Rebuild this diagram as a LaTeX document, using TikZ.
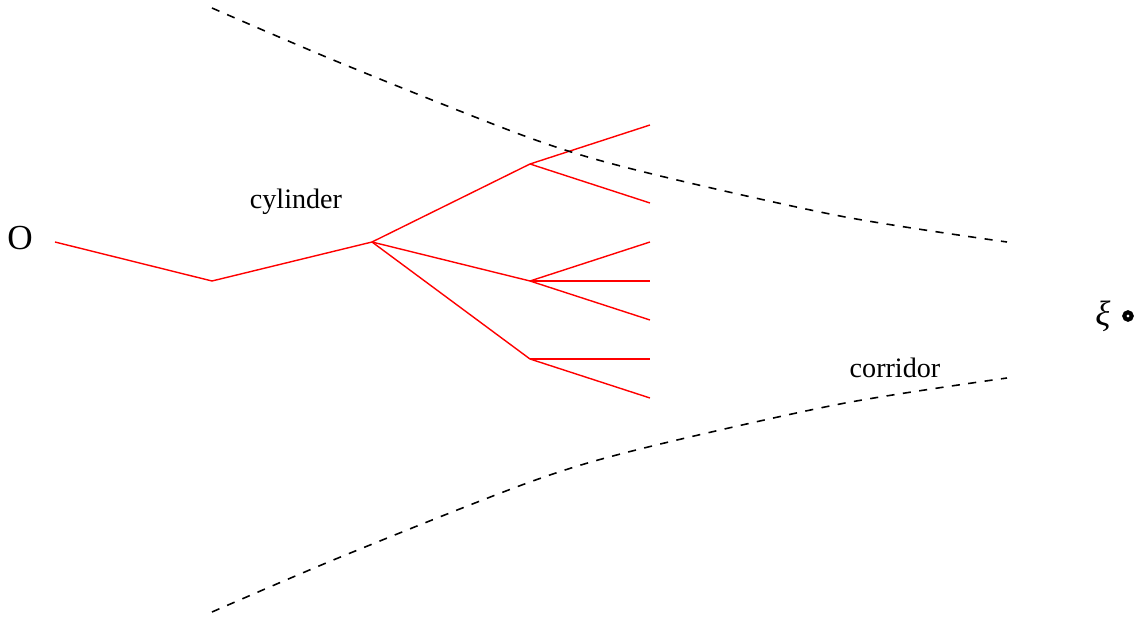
\documentclass[tikz,border=0pt]{standalone}
\usepackage{fontspec}
\setmainfont{Liberation Serif}
\usetikzlibrary{positioning}

\begin{document}
\begin{tikzpicture}[
		x=0.01cm, y=-0.01cm,
		% Red branching path
		branch/.style={draw=red, line width=0.4pt},
		% Dashed corridor walls
		wall/.style={draw=black, line width=0.45pt, dash pattern=on 2.3pt off 2.4pt},
		% Text labels
		lbl/.style={font=\footnotesize, inner sep=0pt}
	]
	\useasboundingbox (0,0) rectangle (1141,618);

	% ==========================================
	% 1. TREE VERTICES
	% ==========================================
	\coordinate (root) at (55,242);
	\coordinate (dip) at (212,281);
	\coordinate (fork) at (372,242);
	\coordinate (upper) at (530,164);
	\coordinate (middle) at (530,281);
	\coordinate (lower) at (530,359);

	% Leaves (x=650)
	\coordinate (leafa) at (650,125);
	\coordinate (leafb) at (650,203);
	\coordinate (leafc) at (650,242);
	\coordinate (leafd) at (650,281);
	\coordinate (leafe) at (650,320);
	\coordinate (leaff) at (650,359);
	\coordinate (leafg) at (650,398);

	% ==========================================
	% 2. RED BRANCHES
	% ==========================================
	\draw[branch] (root) -- (dip) -- (fork);
	\draw[branch] (fork) -- (upper);
	\draw[branch] (fork) -- (middle);
	\draw[branch] (fork) -- (lower);

	\draw[branch] (upper) -- (leafa);
	\draw[branch] (upper) -- (leafb);
	\draw[branch] (middle) -- (leafc);
	\draw[branch] (middle) -- (leafd);
	\draw[branch] (middle) -- (leafe);
	\draw[branch] (lower) -- (leaff);
	\draw[branch] (lower) -- (leafg);

	% ==========================================
	% 3. CORRIDOR WALLS (DASHED)
	% ==========================================
	\draw[wall] plot[smooth] coordinates {(212,8) (343,64) (530,138) (640,171) (840,216) (1007,242)};
	\draw[wall] plot[smooth] coordinates {(212,612) (343,556) (530,482) (640,449) (840,404) (1007,378)};

	% ==========================================
	% 4. LABELS
	% ==========================================
	\node[inner sep=0pt] (origin) at (20,238) {O};
	\node[lbl] (cyl) at (296,202) {cylinder};
	\node[lbl] (corr) at (895,368) {corridor};

	% Target point
	\node[circle, draw=black, line width=1.15pt, fill=white, inner sep=0pt, minimum size=2.1pt] (target) at (1128,316) {};
	\node[lbl, font=\normalsize\itshape, left=3.2pt of target] (xi) {ξ};

\end{tikzpicture}
\end{document}
